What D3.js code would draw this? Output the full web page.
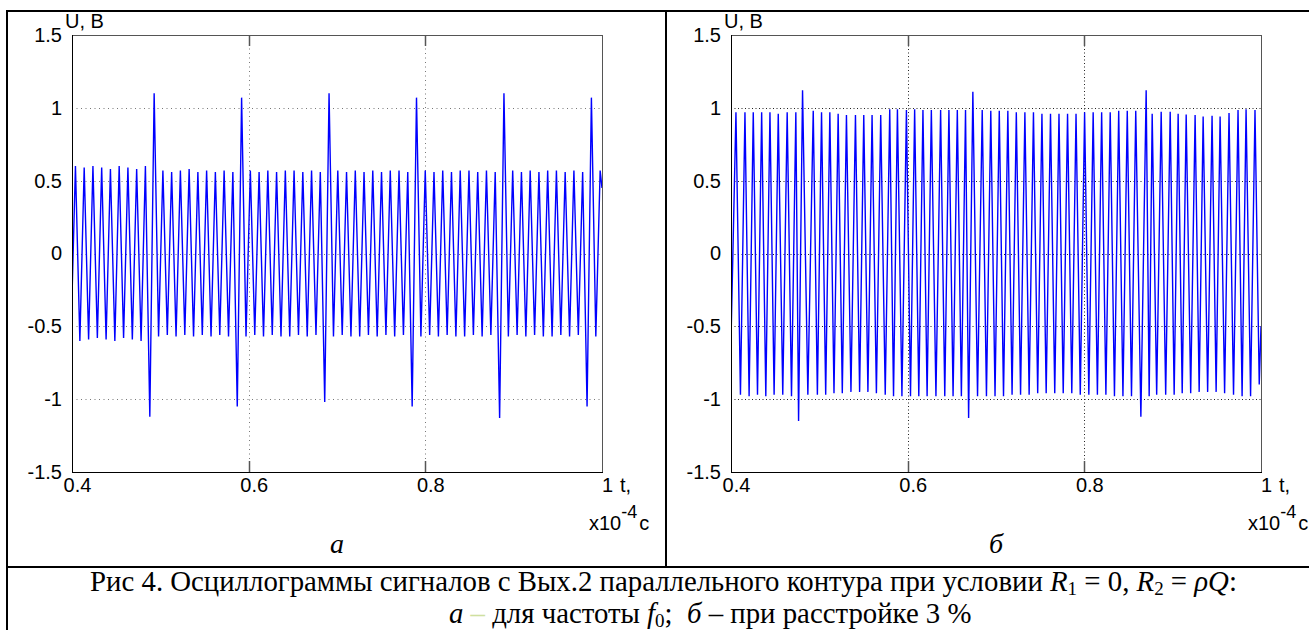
<!DOCTYPE html>
<html><head><meta charset="utf-8">
<script src="https://cdn.jsdelivr.net/npm/d3@7"></script>
<style>body{margin:0;background:#fff}svg{display:block}</style>
</head><body><svg id="c" width="1309" height="630"></svg>
<script>
// ---------- data (time in x10^-4 s, voltage in V) ----------
const xTicks = [0.4, 0.6, 0.8, 1];
const xTickLabels = ["0.4", "0.6", "0.8", "1"];
const yTicks = [-1.5, -1, -0.5, 0, 0.5, 1, 1.5];
const yTickLabels = ["-1.5", "-1", "-0.5", "0", "0.5", "1", "1.5"];
const xGrid = [0.6, 0.8];
const yGrid = [-1, -0.5, 0, 0.5, 1];
const yAxisTitle = "U, B";
const xAxisTitle = "t,";
const xAxisUnit = ["x10", "-4", "c"];
const panelLabels = ["а", "б"];

// panel a: extrema of the oscillogram at resonance f0
const waveA = [
[0.400,-0.30],[0.4039,0.60],[0.4089,-0.60],[0.4138,0.59],[0.4188,-0.59],[0.4237,0.60],[0.4287,-0.58],
[0.4336,0.59],[0.4386,-0.59],[0.4435,0.58],[0.4485,-0.60],[0.4534,0.60],[0.4584,-0.58],[0.4633,0.59],
[0.4683,-0.59],[0.4732,0.58],[0.4782,-0.60],[0.4831,0.60],[0.4881,-1.12],[0.4930,1.10],[0.4980,-0.57],
[0.5029,0.57],[0.5079,-0.56],[0.5128,0.56],[0.5178,-0.57],[0.5227,0.57],[0.5277,-0.56],[0.5326,0.58],
[0.5376,-0.57],[0.5425,0.56],[0.5475,-0.56],[0.5524,0.57],[0.5574,-0.57],[0.5623,0.56],[0.5673,-0.56],
[0.5722,0.57],[0.5772,-0.57],[0.5821,0.56],[0.5871,-1.05],[0.5920,1.07],[0.5970,-0.57],[0.6019,0.57],
[0.6069,-0.56],[0.6118,0.56],[0.6168,-0.57],[0.6217,0.57],[0.6267,-0.56],[0.6316,0.56],[0.6366,-0.57],
[0.6415,0.57],[0.6465,-0.57],[0.6514,0.57],[0.6564,-0.56],[0.6613,0.56],[0.6663,-0.57],[0.6712,0.57],
[0.6762,-0.56],[0.6811,0.56],[0.6861,-1.02],[0.6910,1.10],[0.6960,-0.57],[0.7009,0.57],[0.7059,-0.56],
[0.7108,0.56],[0.7158,-0.57],[0.7207,0.57],[0.7257,-0.57],[0.7306,0.56],[0.7356,-0.56],[0.7405,0.57],
[0.7455,-0.57],[0.7504,0.56],[0.7554,-0.56],[0.7603,0.57],[0.7653,-0.57],[0.7702,0.57],[0.7752,-0.56],
[0.7801,0.56],[0.7851,-1.05],[0.7900,1.07],[0.7950,-0.57],[0.7999,0.57],[0.8049,-0.56],[0.8098,0.56],
[0.8148,-0.57],[0.8197,0.57],[0.8247,-0.56],[0.8296,0.56],[0.8346,-0.57],[0.8395,0.57],[0.8445,-0.57],
[0.8494,0.57],[0.8544,-0.56],[0.8593,0.56],[0.8643,-0.57],[0.8692,0.57],[0.8742,-0.56],[0.8791,0.56],
[0.8841,-1.13],[0.8890,1.10],[0.8940,-0.57],[0.8989,0.57],[0.9039,-0.56],[0.9088,0.56],[0.9138,-0.57],
[0.9187,0.57],[0.9237,-0.56],[0.9286,0.56],[0.9336,-0.57],[0.9385,0.57],[0.9435,-0.57],[0.9484,0.57],
[0.9534,-0.56],[0.9583,0.56],[0.9633,-0.57],[0.9682,0.57],[0.9732,-0.56],[0.9781,0.56],[0.9831,-1.05],
[0.9880,1.07],[0.9930,-0.57],[0.9979,0.57],[1.000,0.45]
];

// panel б: extrema of the oscillogram at 3 % detuning
const waveB = [
[0.400,-0.60],[0.4056,0.97],[0.4107,-0.97],[0.4158,0.97],[0.4205,-0.98],[0.4252,0.97],[0.4300,-0.97],
[0.4347,0.97],[0.4394,-0.98],[0.4441,0.97],[0.4488,-0.97],[0.4535,0.96],[0.4586,-0.97],[0.4636,0.97],
[0.4685,-0.98],[0.4734,0.97],[0.4765,-1.15],[0.4810,1.12],[0.4870,-0.97],[0.4931,0.98],[0.4978,-0.97],
[0.5025,0.97],[0.5072,-0.97],[0.5119,0.97],[0.5166,-0.96],[0.5213,0.96],[0.5260,-0.96],[0.5307,0.95],
[0.5358,-0.95],[0.5409,0.95],[0.5456,-0.95],[0.5503,0.95],[0.5550,-0.95],[0.5597,0.95],[0.5646,-0.96],
[0.5695,0.95],[0.5746,-0.97],[0.5797,0.99],[0.5840,-0.98],[0.5884,0.99],[0.5935,-0.98],[0.5986,0.985],
[0.6032,-0.98],[0.6079,0.99],[0.6126,-0.98],[0.6173,0.985],[0.6220,-0.98],[0.6268,0.985],[0.6320,-0.98],
[0.6373,0.985],[0.6420,-0.98],[0.6467,0.985],[0.6514,-0.98],[0.6562,0.985],[0.6608,-0.98],[0.6655,0.985],
[0.6690,-1.13],[0.6738,1.11],[0.6791,-0.98],[0.6844,0.985],[0.6892,-0.98],[0.6941,0.98],[0.6989,-0.98],
[0.7037,0.98],[0.7085,-0.98],[0.7134,0.98],[0.7182,-0.97],[0.7230,0.97],[0.7278,-0.97],[0.7327,0.97],
[0.7375,-0.97],[0.7424,0.97],[0.7472,-0.96],[0.7520,0.96],[0.7568,-0.96],[0.7617,0.96],[0.7665,-0.96],
[0.7713,0.96],[0.7761,-0.96],[0.7810,0.96],[0.7858,-0.96],[0.7906,0.96],[0.7954,-0.97],[0.8003,0.97],
[0.8051,-0.97],[0.8100,0.97],[0.8148,-0.97],[0.8196,0.97],[0.8244,-0.97],[0.8293,0.97],[0.8341,-0.98],
[0.8389,0.98],[0.8437,-0.98],[0.8486,0.98],[0.8534,-0.98],[0.8582,0.98],[0.8640,-1.12],[0.8700,1.12],
[0.8734,-0.98],[0.8768,0.96],[0.8819,-0.97],[0.8870,0.973],[0.8921,-0.97],[0.8972,0.973],[0.9017,-0.97],
[0.9062,0.96],[0.9108,-0.96],[0.9153,0.955],[0.9204,-0.96],[0.9254,0.95],[0.9300,-0.95],[0.9345,0.94],
[0.9396,-0.95],[0.9446,0.945],[0.9492,-0.95],[0.9537,0.94],[0.9588,-0.96],[0.9638,0.965],[0.9689,-0.97],
[0.9740,0.985],[0.9786,-0.98],[0.9831,0.99],[0.9882,-0.98],[0.9932,0.985],[0.9980,-0.90],[1.000,-0.50]
];

// ---------- drawing ----------
const svg = d3.select("#c");
svg.append("rect").attr("width",1309).attr("height",630).attr("fill","#fff");

const sans = "'Liberation Sans', Arial, sans-serif";
const serif = "'Liberation Serif', 'Times New Roman', serif";

// table frame
const T = svg.append("g").attr("stroke","#000").attr("stroke-width",2);
T.append("line").attr("x1",7).attr("x2",1309).attr("y1",11).attr("y2",11);
T.append("line").attr("x1",7).attr("x2",1309).attr("y1",567).attr("y2",567);
T.append("line").attr("x1",7).attr("x2",7).attr("y1",10).attr("y2",630);
T.append("line").attr("x1",666).attr("x2",666).attr("y1",10).attr("y2",567);

const panels = [
  {wave: waveA, x0: 72, x1: 602, label: panelLabels[0], grid: "#777", dash: "1,3.5"},
  {wave: waveB, x0: 731, x1: 1261, label: panelLabels[1], grid: "#222", dash: "1,2.5"}
];
const yTop = 35, yBot = 472;

panels.forEach((p, i) => {
  const g = svg.append("g");
  const x = d3.scaleLinear().domain([0.4, 1]).range([p.x0, p.x1]);
  const y = d3.scaleLinear().domain([-1.5, 1.5]).range([yBot, yTop]);

  // grid
  g.append("g").selectAll("line").data(yGrid).join("line")
    .attr("x1", p.x0).attr("x2", p.x1).attr("y1", d => Math.round(y(d)) + 0.5).attr("y2", d => Math.round(y(d)) + 0.5)
    .attr("stroke", p.grid).attr("stroke-width", 1).attr("stroke-dasharray", p.dash);
  g.append("g").selectAll("line").data(xGrid).join("line")
    .attr("x1", d => Math.round(x(d)) + 0.5).attr("x2", d => Math.round(x(d)) + 0.5).attr("y1", yTop).attr("y2", yBot)
    .attr("stroke", p.grid).attr("stroke-width", 1).attr("stroke-dasharray", p.dash);

  // signal
  const clipId = "clip" + i;
  svg.append("clipPath").attr("id", clipId).append("rect")
    .attr("x", p.x0).attr("y", yTop).attr("width", p.x1 - p.x0).attr("height", yBot - yTop);
  const line = d3.line().x(d => x(d[0])).y(d => y(d[1]));
  g.append("path").datum(p.wave).attr("d", line).attr("fill", "none")
    .attr("stroke", "#0000ff").attr("stroke-width", 1.4).attr("stroke-linejoin", "miter")
    .attr("clip-path", `url(#${clipId})`);

  // box
  g.append("rect").attr("x", p.x0 + 0.5).attr("y", yTop + 0.5).attr("width", p.x1 - p.x0).attr("height", yBot - yTop)
    .attr("fill", "none").attr("stroke", "#555").attr("stroke-width", 1);
  g.append("line").attr("x1", p.x0 + 0.5).attr("x2", p.x0 + 0.5).attr("y1", yTop).attr("y2", yBot + 1).attr("stroke", "#000");
  g.append("line").attr("x1", p.x0).attr("x2", p.x1 + 1).attr("y1", yBot + 0.5).attr("y2", yBot + 0.5).attr("stroke", "#000");

  // x ticks (inward, top and bottom)
  g.append("g").selectAll("line").data(xGrid).join("line")
    .attr("x1", d => Math.round(x(d)) + 0.5).attr("x2", d => Math.round(x(d)) + 0.5)
    .attr("y1", yTop).attr("y2", yTop + 11).attr("stroke", "#555").attr("stroke-width", 1.5);
  g.append("g").selectAll("line").data(xGrid).join("line")
    .attr("x1", d => Math.round(x(d)) + 0.5).attr("x2", d => Math.round(x(d)) + 0.5)
    .attr("y1", yBot).attr("y2", yBot - 11).attr("stroke", "#555").attr("stroke-width", 1.5);

  // y tick labels via axis
  const ya = d3.axisLeft(y).tickValues(yTicks).tickSize(0).tickPadding(10)
    .tickFormat((d, k) => yTickLabels[k]);
  const yg = g.append("g").attr("transform", `translate(${p.x0},0)`).call(ya);
  yg.select(".domain").remove();
  yg.selectAll("text").attr("font-family", sans).attr("font-size", 20).attr("fill", "#000");

  // x tick labels via axis
  const xa = d3.axisBottom(x).tickValues(xTicks).tickSize(0).tickPadding(0)
    .tickFormat((d, k) => xTickLabels[k]);
  const xg = g.append("g").attr("transform", `translate(5,${yBot})`).call(xa);
  xg.select(".domain").remove();
  xg.selectAll("text").attr("font-family", sans).attr("font-size", 20).attr("fill", "#000")
    .attr("dy", null).attr("y", 20);

  // axis titles
  g.append("text").attr("x", p.x0 - 7).attr("y", 28).attr("font-family", sans).attr("font-size", 20).text(yAxisTitle);
  g.append("text").attr("x", p.x1 + 18).attr("y", 492).attr("font-family", sans).attr("font-size", 20).text(xAxisTitle);
  const u = g.append("text").attr("x", p.x1 - 13).attr("y", 530).attr("font-family", sans).attr("font-size", 20);
  u.append("tspan").text(xAxisUnit[0]);
  u.append("tspan").attr("dy", -12).attr("font-size", 18).text(xAxisUnit[1]);
  u.append("tspan").attr("dy", 12).attr("dx", 2).text(xAxisUnit[2]);

  // panel label
  g.append("text").attr("x", (p.x0 + p.x1) / 2).attr("y", 553).attr("text-anchor", "middle")
    .attr("font-family", serif).attr("font-style", "italic").attr("font-size", 28).text(p.label);
});

// caption
const capSize = 28.8, subSize = 19;
const cap1 = svg.append("text").attr("x", 663.5).attr("y", 591).attr("text-anchor", "middle")
  .attr("font-family", serif).attr("font-size", capSize).attr("fill", "#000");
cap1.append("tspan").text("Рис 4. Осциллограммы сигналов с Вых.2 параллельного контура при условии ");
cap1.append("tspan").attr("font-style", "italic").text("R");
cap1.append("tspan").attr("font-size", subSize).attr("dy", 4).text("1");
cap1.append("tspan").attr("dy", -4).text(" = 0, ");
cap1.append("tspan").attr("font-style", "italic").text("R");
cap1.append("tspan").attr("font-size", subSize).attr("dy", 4).text("2");
cap1.append("tspan").attr("dy", -4).text(" = ");
cap1.append("tspan").attr("font-style", "italic").text("ρQ");
cap1.append("tspan").text(":");

const cap2 = svg.append("text").attr("x", 449).attr("y", 623).attr("text-anchor", "start")
  .attr("font-family", serif).attr("font-size", capSize).attr("fill", "#000");
cap2.append("tspan").attr("font-style", "italic").text("а");
cap2.append("tspan").text(" ");
cap2.append("tspan").attr("fill", "#cfe0a0").text("–");
cap2.append("tspan").text(" для частоты ");
cap2.append("tspan").attr("font-style", "italic").text("f");
cap2.append("tspan").attr("font-size", subSize).attr("dy", 4).text("0");
cap2.append("tspan").attr("dy", -4).text(";\u00A0 ");
cap2.append("tspan").attr("font-style", "italic").text("б");
cap2.append("tspan").text(" – при расстройке 3 %");
</script>
</body></html>
